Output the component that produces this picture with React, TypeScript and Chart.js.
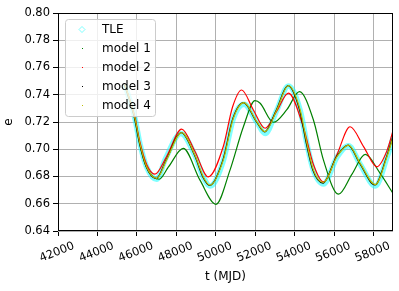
import React, { useEffect, useRef } from "react";
import { Chart, registerables } from "chart.js";

Chart.register(...registerables);

// ---- data ----
const tleT = [45390, 45900, 46150, 46490, 47000, 47450, 48230, 48940, 49370, 49710, 50380, 50890, 51430, 52080, 52500, 53090, 53680, 54280, 54620, 54950, 55460, 56140, 56730, 57320, 58090, 58680, 59020];
const tleE = [0.7475, 0.7227, 0.7043, 0.6871, 0.678, 0.693, 0.7115, 0.6955, 0.6795, 0.673, 0.6915, 0.7225, 0.733, 0.72, 0.7115, 0.7285, 0.7465, 0.7285, 0.704, 0.6845, 0.6745, 0.694, 0.7025, 0.689, 0.673, 0.694, 0.7095];

const model1T = [45390, 45900, 46150, 46490, 47130, 47600, 48350, 49200, 50010, 50720, 51400, 51990, 52250, 52920, 53600, 54240, 54950, 55460, 56220, 56900, 57580, 58300, 59020];
const model1E = [0.7475, 0.7225, 0.704, 0.687, 0.678, 0.687, 0.7006, 0.6773, 0.6596, 0.6847, 0.7165, 0.7357, 0.7338, 0.7198, 0.729, 0.7423, 0.7215, 0.692, 0.667, 0.6816, 0.6962, 0.683, 0.6668];

const model2T = [45390, 45900, 46150, 46490, 46910, 47500, 48270, 48940, 49620, 50380, 50850, 51310, 51900, 52500, 53090, 53680, 54440, 54950, 55460, 56140, 56810, 57500, 58170, 58680, 59020];
const model2E = [0.7475, 0.7235, 0.7055, 0.689, 0.6817, 0.6945, 0.7148, 0.6985, 0.6797, 0.702, 0.731, 0.7435, 0.729, 0.7154, 0.728, 0.7412, 0.7162, 0.6888, 0.676, 0.696, 0.7165, 0.7018, 0.6871, 0.699, 0.7154];

const model3T = [45370, 45880, 46130, 46470, 46980, 47480, 48250, 48920, 49350, 49690, 50360, 50870, 51410, 52060, 52480, 53070, 53660, 54250, 54590, 54920, 55440, 56120, 56710, 57300, 58070, 58660, 59000];
const model3E = [0.7475, 0.7227, 0.7043, 0.6871, 0.6784, 0.692, 0.7121, 0.6957, 0.6795, 0.6734, 0.692, 0.7227, 0.7342, 0.7202, 0.7128, 0.7288, 0.7467, 0.7288, 0.7043, 0.6847, 0.6752, 0.6945, 0.7031, 0.6896, 0.6738, 0.6945, 0.7104];

const model4T = [45390, 45900, 46150, 46490, 47000, 47500, 48270, 48940, 49370, 49710, 50380, 50890, 51430, 52080, 52500, 53090, 53680, 54280, 54620, 54950, 55460, 56140, 56730, 57320, 58090, 58680, 59020];
const model4E = [0.7475, 0.7227, 0.7043, 0.6871, 0.6786, 0.692, 0.7121, 0.6957, 0.6797, 0.6736, 0.692, 0.7227, 0.7342, 0.7202, 0.7129, 0.7288, 0.7467, 0.7288, 0.7043, 0.6847, 0.6756, 0.6945, 0.7031, 0.6896, 0.6741, 0.6945, 0.7104];

const xTickValues = [42000, 44000, 46000, 48000, 50000, 52000, 54000, 56000, 58000];
const yTickValues = [0.64, 0.66, 0.68, 0.7, 0.72, 0.74, 0.76, 0.78, 0.8];
const legendLabels = ["TLE", "model 1", "model 2", "model 3", "model 4"];

const X_MIN = 42000;
const X_MAX = 58985;
const Y_MIN = 0.64;
const Y_MAX = 0.8;

const COL_TLE = "rgba(0,255,255,0.5)";
const COL_TLE_LEG = "rgba(0,255,255,0.5)";
const COL_M1 = "#008000";
const COL_M2 = "#ff0000";
const COL_M3 = "#000000";
const COL_M4 = "#bfbf00";
const FONT = '"DejaVu Sans", sans-serif';

const toPts = (t: number[], e: number[]) => t.map((v, i) => ({ x: v, y: e[i] }));

const framePlugin = {
  id: "frameAndLegend",
  afterDraw(chart: any) {
    const ctx = chart.ctx as CanvasRenderingContext2D;
    const a = chart.chartArea;
    ctx.save();
    // spines
    ctx.strokeStyle = "#000";
    ctx.lineWidth = 1;
    const l = Math.round(a.left) + 0.5;
    const t = Math.round(a.top) + 0.5;
    const r = Math.round(a.right) - 0.5;
    const b = Math.round(a.bottom) - 0.5;
    ctx.strokeRect(l, t, r - l, b - t);

    // legend box
    const bx = 65.5, by = 19.5, bw = 90, bh = 97;
    ctx.beginPath();
    (ctx as any).roundRect(bx, by, bw, bh, 3);
    ctx.fillStyle = "rgba(255,255,255,0.8)";
    ctx.fill();
    ctx.strokeStyle = "#cccccc";
    ctx.stroke();

    const cols = [COL_TLE_LEG, COL_M1, COL_M2, COL_M3, COL_M4];
    ctx.font = "12px " + FONT;
    ctx.textBaseline = "middle";
    ctx.textAlign = "left";
    legendLabels.forEach((lab, i) => {
      const cy = 29.5 + i * 18.9;
      const mx = 82;
      if (i === 0) {
        ctx.beginPath();
        ctx.moveTo(mx, cy - 3);
        ctx.lineTo(mx + 3, cy);
        ctx.lineTo(mx, cy + 3);
        ctx.lineTo(mx - 3, cy);
        ctx.closePath();
        ctx.strokeStyle = cols[i];
        ctx.lineWidth = 1;
        ctx.stroke();
      } else {
        ctx.fillStyle = cols[i];
        ctx.fillRect(Math.round(mx), Math.round(cy), 1, 1);
      }
      ctx.fillStyle = "#000";
      ctx.fillText(lab, 102, cy + 0.5);
    });
    ctx.restore();
  },
};

export default function App() {
  const ref = useRef<HTMLCanvasElement | null>(null);
  useEffect(() => {
    if (!ref.current) return;
    const lineDs = (label: string, t: number[], e: number[], color: string, width: number, order: number) => ({
      label,
      data: toPts(t, e),
      borderColor: color,
      backgroundColor: color,
      borderWidth: width,
      pointRadius: 0,
      fill: false,
      cubicInterpolationMode: "monotone" as const,
      order,
    });
    const chart = new Chart(ref.current, {
      type: "line",
      data: {
        datasets: [
          lineDs("TLE", tleT, tleE, COL_TLE, 5.5, 5),
          lineDs("model 1", model1T, model1E, COL_M1, 1.2, 4),
          lineDs("model 2", model2T, model2E, COL_M2, 1.2, 3),
          lineDs("model 3", model3T, model3E, COL_M3, 1.2, 2),
          lineDs("model 4", model4T, model4E, COL_M4, 1.2, 1),
        ],
      },
      options: {
        animation: false,
        responsive: false,
        devicePixelRatio: 1,
        layout: { padding: { left: 0, top: 13, right: 6, bottom: 0 } },
        plugins: { legend: { display: false }, tooltip: { enabled: false } },
        scales: {
          x: {
            type: "linear",
            min: X_MIN,
            max: X_MAX,
            afterBuildTicks: (axis: any) => {
              axis.ticks = xTickValues.map((v) => ({ value: v }));
            },
            afterFit: (scale: any) => {
              scale.height = 60;
            },
            grid: { color: "#b0b0b0", lineWidth: 1, tickColor: "#000", tickLength: 5, drawTicks: true },
            border: { display: false },
            ticks: {
              autoSkip: false,
              minRotation: 22,
              maxRotation: 22,
              padding: 3,
              labelOffset: 16,
              color: "#000",
              font: { family: FONT, size: 11.5 },
              callback: (v: any) => String(v),
            },
            title: { display: true, text: "t (MJD)", color: "#000", font: { family: FONT, size: 12 }, padding: { top: 0, bottom: 7 } },
          },
          y: {
            type: "linear",
            min: Y_MIN,
            max: Y_MAX,
            afterBuildTicks: (axis: any) => {
              axis.ticks = yTickValues.map((v) => ({ value: v }));
            },
            afterFit: (scale: any) => {
              scale.width = 58;
            },
            grid: { color: "#b0b0b0", lineWidth: 1, tickColor: "#000", tickLength: 5, drawTicks: true },
            border: { display: false },
            ticks: {
              padding: 3,
              color: "#000",
              font: { family: FONT, size: 11.5 },
              callback: (v: any) => Number(v).toFixed(2),
            },
            title: { display: true, text: "e", color: "#000", font: { family: FONT, size: 12 }, padding: { top: 2, bottom: 0 } },
          },
        },
      },
      plugins: [framePlugin],
    });
    return () => chart.destroy();
  }, []);
  return (
    <div style={{ position: "fixed", left: 0, top: 0, width: 399, height: 291, background: "#fff" }}>
      <canvas ref={ref} width={399} height={291} style={{ width: 399, height: 291, display: "block" }} />
    </div>
  );
}
